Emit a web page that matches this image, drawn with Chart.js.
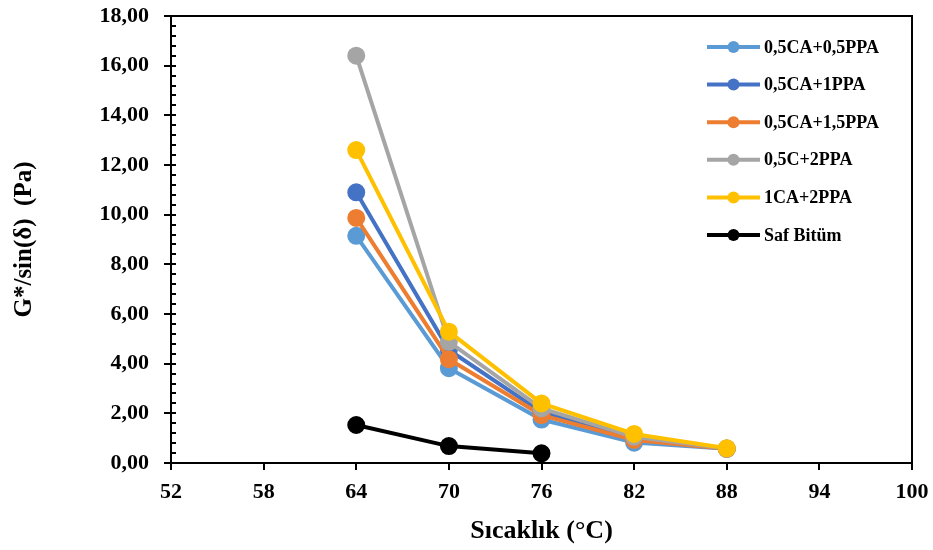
<!DOCTYPE html>
<html>
<head>
<meta charset="utf-8">
<script src="https://cdn.jsdelivr.net/npm/chart.js@4.4.1/dist/chart.umd.min.js"></script>
<style>
  html, body { margin:0; padding:0; background:#fff; }
  #wrap { width:933px; height:550px; position:relative; }
</style>
</head>
<body>
<div id="wrap"><canvas id="c"></canvas></div>
<script>
const temps      = [64, 70, 76, 82, 88];
const tempsSaf   = [64, 70, 76];
const seriesNames = ['0,5CA+0,5PPA', '0,5CA+1PPA', '0,5CA+1,5PPA', '0,5C+2PPA', '1CA+2PPA', 'Saf Bitüm'];
const ca05ppa05  = [9.15, 3.82, 1.75, 0.82, 0.57];
const ca05ppa1   = [10.9, 4.55, 2.05, 1.00, 0.58];
const ca05ppa15  = [9.87, 4.18, 1.93, 0.93, 0.57];
const c05ppa2    = [16.4, 4.88, 2.20, 1.06, 0.58];
const ca1ppa2    = [12.6, 5.29, 2.40, 1.17, 0.59];
const safBitum   = [1.53, 0.68, 0.39];
const xTicks     = [52, 58, 64, 70, 76, 82, 88, 94, 100];

const COLORS = ['#5B9BD5', '#4472C4', '#ED7D31', '#A5A5A5', '#FFC000', '#000000'];
const FONT = '"Liberation Serif", "Times New Roman", serif';

const toPts = (xs, ys) => ys.map((v, i) => ({ x: xs[i], y: v }));
const allY = [ca05ppa05, ca05ppa1, ca05ppa15, c05ppa2, ca1ppa2, safBitum];

const datasets = allY.map((ys, i) => ({
  label: seriesNames[i],
  data: toPts(i === 5 ? tempsSaf : temps, ys),
  borderColor: COLORS[i], backgroundColor: COLORS[i],
  pointBackgroundColor: COLORS[i], pointBorderColor: COLORS[i],
  borderWidth: 4, pointRadius: 7, pointHoverRadius: 7,
  tension: 0, order: 6 - i
}));

// frame, inside ticks, legend
const decor = {
  id: 'decor',
  afterDraw(chart) {
    const { ctx, chartArea: a, scales: { x, y } } = chart;
    ctx.save();
    ctx.strokeStyle = '#000';
    ctx.lineWidth = 2;
    ctx.beginPath();
    ctx.moveTo(a.left, a.top); ctx.lineTo(a.right, a.top); ctx.lineTo(a.right, a.bottom);
    ctx.stroke();

    ctx.lineWidth = 2;
    ctx.beginPath();
    for (let v = 0; v <= 18.001; v += 0.4) {
      const py = Math.round(y.getPixelForValue(v));
      const major = Math.abs(v / 2 - Math.round(v / 2)) < 1e-6;
      ctx.moveTo(a.left - (major ? 7 : 0), py);
      ctx.lineTo(a.left + 5, py);
    }
    xTicks.forEach(t => {
      const px = Math.round(x.getPixelForValue(t));
      ctx.moveTo(px, a.bottom); ctx.lineTo(px, a.bottom + 7);
    });
    ctx.stroke();

    // legend
    const lx = 707, lw = 53, tx = 764;
    ctx.font = 'bold 18px ' + FONT;
    ctx.textBaseline = 'middle';
    chart.data.datasets.forEach((ds, i) => {
      const ly = 47 + i * 37.6;
      ctx.strokeStyle = ds.borderColor;
      ctx.lineWidth = 4;
      ctx.beginPath(); ctx.moveTo(lx, ly); ctx.lineTo(lx + lw, ly); ctx.stroke();
      ctx.fillStyle = ds.borderColor;
      ctx.beginPath(); ctx.arc(lx + lw / 2, ly, 6, 0, Math.PI * 2); ctx.fill();
      ctx.fillStyle = '#000';
      ctx.fillText(ds.label, tx, ly + 1);
    });
    ctx.restore();
  }
};

new Chart(document.getElementById('c'), {
  type: 'line',
  data: { datasets },
  options: {
    responsive: true, maintainAspectRatio: false, animation: false,
    layout: { padding: { top: 16, right: 21, left: 0, bottom: 0 } },
    plugins: { legend: { display: false }, tooltip: { enabled: false } },
    scales: {
      x: {
        type: 'linear', min: 52, max: 100,
        afterBuildTicks: s => { s.ticks = xTicks.map(v => ({ value: v })); },
        afterFit: s => { s.height = 87; s.paddingLeft = 0; s.paddingRight = 0; },
        grid: { display: true, drawOnChartArea: false, drawTicks: false },
        border: { display: true, color: '#000', width: 2 },
        ticks: { color: '#000', padding: 16, maxRotation: 0, font: { family: FONT, size: 22, weight: 'bold' } },
        title: { display: true, text: 'Sıcaklık (°C)', color: '#000', padding: { top: 0, bottom: 3 },
                 font: { family: FONT, size: 26, weight: 'bold' } }
      },
      y: {
        min: 0, max: 18,
        ticks: { stepSize: 2, color: '#000', padding: 22,
                 font: { family: FONT, size: 22, weight: 'bold' },
                 callback: v => v.toFixed(2).replace('.', ',') },
        afterFit: s => { s.width = 171; s.paddingTop = 0; s.paddingBottom = 0; },
        grid: { display: true, drawOnChartArea: false, drawTicks: false },
        border: { display: true, color: '#000', width: 2 },
        title: { display: true, text: 'G*/sin(δ)  (Pa)', color: '#000', padding: { top: 10, bottom: 0 },
                 font: { family: FONT, size: 25, weight: 'bold' } }
      }
    }
  },
  plugins: [decor]
});
</script>
</body>
</html>
